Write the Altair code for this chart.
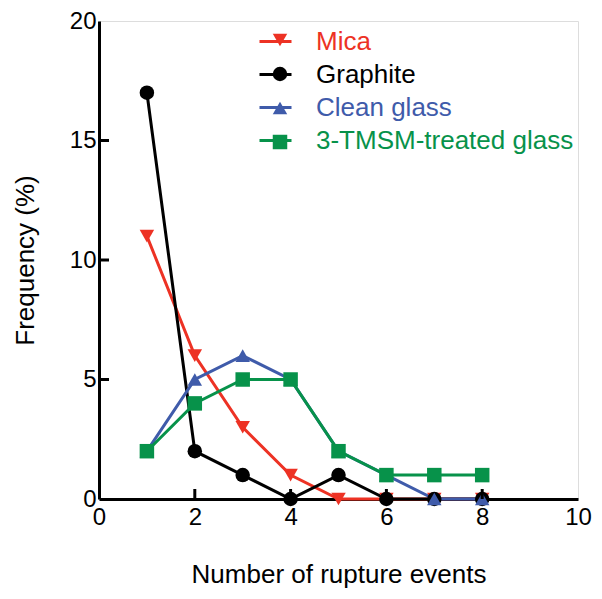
import altair as alt
import pandas as pd

series = ["Mica", "Graphite", "Clean glass", "3-TMSM-treated glass"]
colors = ["#ED3224", "#000000", "#3F5BAA", "#07924A"]
shapes = ["triangle-down", "circle", "triangle-up", "square"]
events = [1, 2, 3, 4, 5, 6, 7, 8]
mica = [11, 6, 3, 1, 0, 0, 0, 0]
graphite = [17, 2, 1, 0, 1, 0, 0, 0]
clean_glass = [2, 5, 6, 5, 2, 1, 0, 0]
tmsm_glass = [2, 4, 5, 5, 2, 1, 1, 1]
x_ticks = [0, 2, 4, 6, 8, 10]
y_ticks = [0, 5, 10, 15, 20]
x_inner_ticks = [2, 4, 6, 8]
y_inner_ticks = [5, 10, 15]

# marker legend uses a distinct (invisible) domain so it is not merged with the line legend
pt_names = [s + "\u200b" for s in series]

rows = []
for name, pname, vals in zip(series, pt_names, [mica, graphite, clean_glass, tmsm_glass]):
    for e, v in zip(events, vals):
        rows.append({"series": name, "series_pt": pname, "events": e, "freq": v,
                     "order": series.index(name)})
df = pd.DataFrame(rows)
xt_df = pd.DataFrame({"events": x_inner_ticks})
yt_df = pd.DataFrame({"freq": y_inner_ticks})

FONT = "Liberation Sans"
label_color_expr = (
    "datum.value == 'Mica' ? '#ED3224' : datum.value == 'Graphite' ? '#000000' : "
    "datum.value == 'Clean glass' ? '#3F5BAA' : '#07924A'"
)

x_scale = alt.Scale(domain=[0, 10], nice=False)
y_scale = alt.Scale(domain=[0, 20], nice=False)

x_axis = alt.Axis(values=x_ticks, ticks=False, labelPadding=6, labelFontSize=24,
                  labelFont=FONT, labelColor="black", domainColor="black", domainWidth=3,
                  grid=False, title="Number of rupture events", titleFont=FONT,
                  titleFontSize=26, titleFontWeight="normal", titlePadding=32,
                  labelFlush=False)
y_axis = alt.Axis(values=y_ticks, ticks=False, labelPadding=3, labelFontSize=24,
                  labelFont=FONT, labelColor="black", domainColor="black", domainWidth=3,
                  grid=False, title="Frequency (%)", titleFont=FONT, titleFontSize=26,
                  titleFontWeight="normal", titlePadding=31, labelFlush=False)

lines = alt.Chart(df).mark_line(strokeWidth=3).encode(
    x=alt.X("events:Q", scale=x_scale, axis=x_axis),
    y=alt.Y("freq:Q", scale=y_scale, axis=y_axis),
    stroke=alt.Stroke("series:N", scale=alt.Scale(domain=series, range=colors),
                      legend=alt.Legend(orient="none", legendX=159, legendY=3, title=None,
                                        symbolType="stroke", symbolSize=1024,
                                        symbolStrokeWidth=3, labelFontSize=26,
                                        labelFont=FONT, labelOffset=23,
                                        labelColor={"expr": label_color_expr},
                                        rowPadding=2, padding=0, labelLimit=400)),
    order="order:Q",
)

pt_legend = alt.Legend(orient="none", legendX=168, legendY=6, title=None,
                       symbolSize=210, labelFontSize=26, labelFont=FONT,
                       labelExpr="''", rowPadding=8, padding=0, symbolStrokeWidth=0,
                       symbolOpacity=1)

points = alt.Chart(df).mark_point(filled=True, size=210, opacity=1).encode(
    x=alt.X("events:Q", scale=x_scale, axis=x_axis),
    y=alt.Y("freq:Q", scale=y_scale, axis=y_axis),
    fill=alt.Fill("series_pt:N", scale=alt.Scale(domain=pt_names, range=colors),
                  legend=pt_legend),
    shape=alt.Shape("series_pt:N", scale=alt.Scale(domain=pt_names, range=shapes),
                    legend=pt_legend),
)

# inward-pointing tick marks on both axes
x_tick_marks = alt.Chart(xt_df).mark_tick(color="black", thickness=3, size=10,
                                          orient="vertical", opacity=1).encode(
    x=alt.X("events:Q", scale=x_scale, axis=x_axis),
    y=alt.value(473),
)
y_tick_marks = alt.Chart(yt_df).mark_tick(color="black", thickness=3, size=10,
                                          orient="horizontal", opacity=1).encode(
    y=alt.Y("freq:Q", scale=y_scale, axis=y_axis),
    x=alt.value(5),
)

chart = alt.layer(lines, points, x_tick_marks, y_tick_marks).properties(
    width=479, height=478,
    autosize=alt.AutoSizeParams(type="none"),
    padding={"left": 91, "top": 13, "right": 16, "bottom": 92},
).configure_view(stroke="black", strokeWidth=3).configure(background="white")

chart.save("out.html", embed_options={"renderer": "svg", "actions": False})
